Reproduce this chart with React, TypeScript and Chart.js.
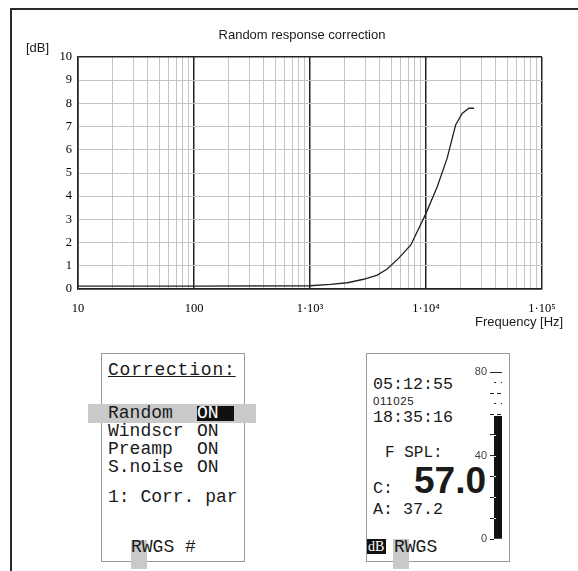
import React, { useEffect, useRef } from "react";
import { Chart, registerables } from "chart.js";

Chart.register(...registerables);

// ---------- data ----------
const frequencies = [10, 100, 1000, 1500, 2100, 2900, 3800, 4600, 5800, 7400, 10000, 12500, 15200, 18000, 20500, 23400, 26000];
const correctionDb = [0.12, 0.12, 0.14, 0.2, 0.27, 0.42, 0.6, 0.85, 1.32, 1.9, 3.26, 4.41, 5.63, 7.07, 7.57, 7.79, 7.79];
const yTicks = [0, 1, 2, 3, 4, 5, 6, 7, 8, 9, 10];
const xDecades = [10, 100, 1000, 10000, 100000];
const xTickLabels = ["10", "100", "1·10³", "1·10⁴", "1·10⁵"];
const chartTitle = "Random response correction";
const yUnit = "[dB]";
const xUnit = "Frequency [Hz]";

const correctionNames = ["Random", "Windscr", "Preamp", "S.noise"];
const correctionStates = ["ON", "ON", "ON", "ON"];

const meterLevel = [58.8];
const meterMarks = [0, 5, 10, 15, 20, 25, 30, 35, 40, 45, 50, 55, 60, 65, 70, 75, 80];
const meterLabelValues = [0, 40, 80];

const isDecade = (v: number) => {
  const l = Math.log10(v);
  return Math.abs(l - Math.round(l)) < 1e-9;
};

const MONO = "'Liberation Mono', monospace";
const SANS = "'Liberation Sans', Arial, sans-serif";
const SERIF = "'Liberation Serif', 'Times New Roman', serif";
const INK = "#1a1a1a";

function T(props: { x: number; cy: number; size: number; family: string; children: React.ReactNode; style?: React.CSSProperties }) {
  const lh = Math.round(props.size * 1.4);
  return (
    <div
      style={{
        position: "absolute",
        left: props.x,
        top: props.cy - lh / 2,
        lineHeight: lh + "px",
        fontSize: props.size,
        fontFamily: props.family,
        color: INK,
        whiteSpace: "pre",
        ...props.style,
      }}
    >
      {props.children}
    </div>
  );
}

function MainChart() {
  const ref = useRef<HTMLCanvasElement>(null);
  useEffect(() => {
    const gridValues: number[] = [];
    for (let d = 10; d < 100000; d *= 10) for (let k = 1; k < 10; k++) gridValues.push(k * d);
    gridValues.push(100000);
    const chart = new Chart(ref.current!, {
      type: "line",
      data: {
        datasets: [
          {
            data: frequencies.map((f, i) => ({ x: f, y: correctionDb[i] })),
            borderColor: "#222",
            borderWidth: 1.3,
            pointRadius: 0,
            tension: 0,
            fill: false,
          },
        ],
      },
      options: {
        animation: false,
        responsive: false,
        maintainAspectRatio: false,
        layout: { padding: { top: 57, right: 36, left: 0, bottom: 0 } },
        plugins: { legend: { display: false }, tooltip: { enabled: false }, title: { display: false } },
        scales: {
          x: {
            type: "logarithmic",
            min: 10,
            max: 100000,
            afterBuildTicks: (s: any) => {
              s.ticks = gridValues.map((v) => ({ value: v }));
            },
            afterFit: (s: any) => {
              s.height = 41;
            },
            ticks: {
              autoSkip: false,
              maxRotation: 0,
              minRotation: 0,
              padding: 12,
              color: "#000",
              font: { family: "Liberation Serif", size: 12.5 },
              callback: (v: any) => {
                const i = xDecades.indexOf(Number(v));
                return i >= 0 ? xTickLabels[i] : "";
              },
            },
            grid: {
              drawTicks: false,
              color: (c: any) => (c.tick && isDecade(c.tick.value) ? "#222" : "#c4c4c4"),
              lineWidth: (c: any) => (c.tick && isDecade(c.tick.value) ? 1.5 : 1),
            },
            border: { color: "#222", width: 1.5 },
          },
          y: {
            min: 0,
            max: 10,
            afterBuildTicks: (s: any) => {
              s.ticks = yTicks.map((v) => ({ value: v }));
            },
            afterFit: (s: any) => {
              s.width = 78;
            },
            ticks: {
              padding: 6,
              color: "#000",
              font: { family: "Liberation Serif", size: 12.5 },
            },
            grid: {
              drawTicks: false,
              color: (c: any) => (c.tick && (c.tick.value === 10 || c.tick.value === 0) ? "#222" : "#c4c4c4"),
              lineWidth: (c: any) => (c.tick && (c.tick.value === 10 || c.tick.value === 0) ? 1.5 : 1),
            },
            border: { color: "#222", width: 1.5 },
          },
        },
      },
    } as any);
    return () => chart.destroy();
  }, []);
  return <canvas ref={ref} width={578} height={330} style={{ position: "absolute", left: 0, top: 0 }} />;
}

const meterPlugin = {
  id: "meterMarks",
  afterDatasetsDraw(chart: any) {
    const y = chart.scales.y;
    const { left, right } = chart.chartArea;
    const ctx = chart.ctx;
    ctx.save();
    ctx.lineWidth = 1;
    for (const v of meterMarks) {
      const py = Math.round(y.getPixelForValue(v)) + 0.5;
      if (v > 0 && v < meterLevel[0] && v % 10 === 0) {
        ctx.strokeStyle = "#fff";
        ctx.beginPath();
        ctx.moveTo(left, py);
        ctx.lineTo(left + 2, py);
        ctx.stroke();
      } else if (v > meterLevel[0]) {
        ctx.strokeStyle = "#222";
        ctx.setLineDash(v === 80 ? [] : v % 10 === 0 ? [4, 3] : [2, 5]);
        ctx.beginPath();
        ctx.moveTo(v % 10 === 0 ? left - 4 : left, py);
        ctx.lineTo(right, py);
        ctx.stroke();
        ctx.setLineDash([]);
      }
    }
    ctx.restore();
  },
};

function Meter() {
  const ref = useRef<HTMLCanvasElement>(null);
  useEffect(() => {
    const chart = new Chart(ref.current!, {
      type: "bar",
      data: {
        labels: ["C"],
        datasets: [
          {
            data: meterLevel,
            backgroundColor: "#111",
            borderWidth: 0,
            barPercentage: 1,
            categoryPercentage: 1,
          },
        ],
      },
      options: {
        animation: false,
        responsive: false,
        maintainAspectRatio: false,
        layout: { padding: { top: 12, bottom: 11, right: 6, left: 0 } },
        plugins: { legend: { display: false }, tooltip: { enabled: false } },
        scales: {
          x: { display: false },
          y: {
            min: 0,
            max: 80,
            afterBuildTicks: (s: any) => {
              s.ticks = meterMarks.map((v) => ({ value: v }));
            },
            afterFit: (s: any) => {
              s.width = 34;
            },
            ticks: {
              autoSkip: false,
              padding: 3,
              color: "#444",
              font: { family: "Liberation Sans", size: 11 },
              callback: (v: any) => (meterLabelValues.includes(Number(v)) ? String(v) : ""),
            },
            grid: {
              drawOnChartArea: false,
              drawTicks: true,
              tickLength: 4,
              tickColor: (c: any) => (c.tick && c.tick.value % 10 === 0 && c.tick.value <= meterLevel[0] ? "#222" : "rgba(0,0,0,0)"),
            },
            border: { display: false },
          },
        },
      },
      plugins: [meterPlugin],
    } as any);
    return () => chart.destroy();
  }, []);
  return <canvas ref={ref} width={48} height={190} style={{ position: "absolute", left: 460, top: 360 }} />;
}

export default function App() {
  const rowCy = [413.5, 431, 449, 467];
  return (
    <div style={{ position: "absolute", left: 0, top: 0, width: 578, height: 571, background: "#fff", overflow: "hidden" }}>
      {/* outer frame */}
      <div style={{ position: "absolute", left: 10, top: 8, width: 580, height: 580, borderTop: "2px solid #2a2a2a", borderLeft: "2px solid #2a2a2a" }} />

      <MainChart />
      <T x={0} cy={35} size={13} family={SANS} style={{ width: 604, textAlign: "center" }}>{chartTitle}</T>
      <T x={26} cy={48} size={13} family={SANS}>{yUnit}</T>
      <T x={475} cy={322} size={13} family={SANS}>{xUnit}</T>

      {/* left LCD panel */}
      <div style={{ position: "absolute", left: 101, top: 353, width: 142, height: 207, border: "1px solid #9a9a9a" }} />
      <div style={{ position: "absolute", left: 88, top: 404, width: 168, height: 19, background: "#c9c9c9" }} />
      <div style={{ position: "absolute", left: 131, top: 540, width: 16, height: 29, background: "#c9c9c9" }} />
      <T x={108} cy={370} size={18} family={MONO} style={{ textDecoration: "underline", letterSpacing: 0.8 }}>Correction:</T>
      {correctionNames.map((n, i) => (
        <T key={n} x={108} cy={rowCy[i]} size={18} family={MONO}>{n}</T>
      ))}
      <div style={{ position: "absolute", left: 197, top: 406, width: 37, height: 15, background: "#111" }} />
      {correctionStates.map((s, i) => (
        <T key={i} x={197} cy={rowCy[i]} size={18} family={MONO} style={i === 0 ? { color: "#fff" } : {}}>{s}</T>
      ))}
      <T x={108} cy={497} size={18} family={MONO}>1: Corr. par</T>
      <T x={131} cy={547.5} size={18} family={MONO}>RWGS #</T>

      {/* right LCD panel */}
      <div style={{ position: "absolute", left: 366, top: 353, width: 142, height: 207, border: "1px solid #9a9a9a" }} />
      <div style={{ position: "absolute", left: 393, top: 539, width: 16, height: 30, background: "#c9c9c9" }} />
      <T x={373} cy={384} size={16.7} family={MONO}>05:12:55</T>
      <T x={373} cy={401} size={11.5} family={SANS} style={{ letterSpacing: 0.6 }}>011025</T>
      <T x={373} cy={417.5} size={16.7} family={MONO}>18:35:16</T>
      <T x={385} cy={453} size={16} family={MONO}>F SPL:</T>
      <T x={373} cy={488.7} size={16.7} family={MONO}>C:</T>
      <T x={414} cy={480.5} size={37} family={SANS} style={{ fontWeight: "bold" }}>57.0</T>
      <T x={373} cy={509.5} size={16.7} family={MONO}>A: 37.2</T>
      <div style={{ position: "absolute", left: 367, top: 539, width: 19, height: 15, background: "#111" }} />
      <T x={368} cy={547} size={14} family={SERIF} style={{ color: "#fff" }}>dB</T>
      <T x={394} cy={547} size={18} family={MONO}>RWGS</T>
      <Meter />
    </div>
  );
}
